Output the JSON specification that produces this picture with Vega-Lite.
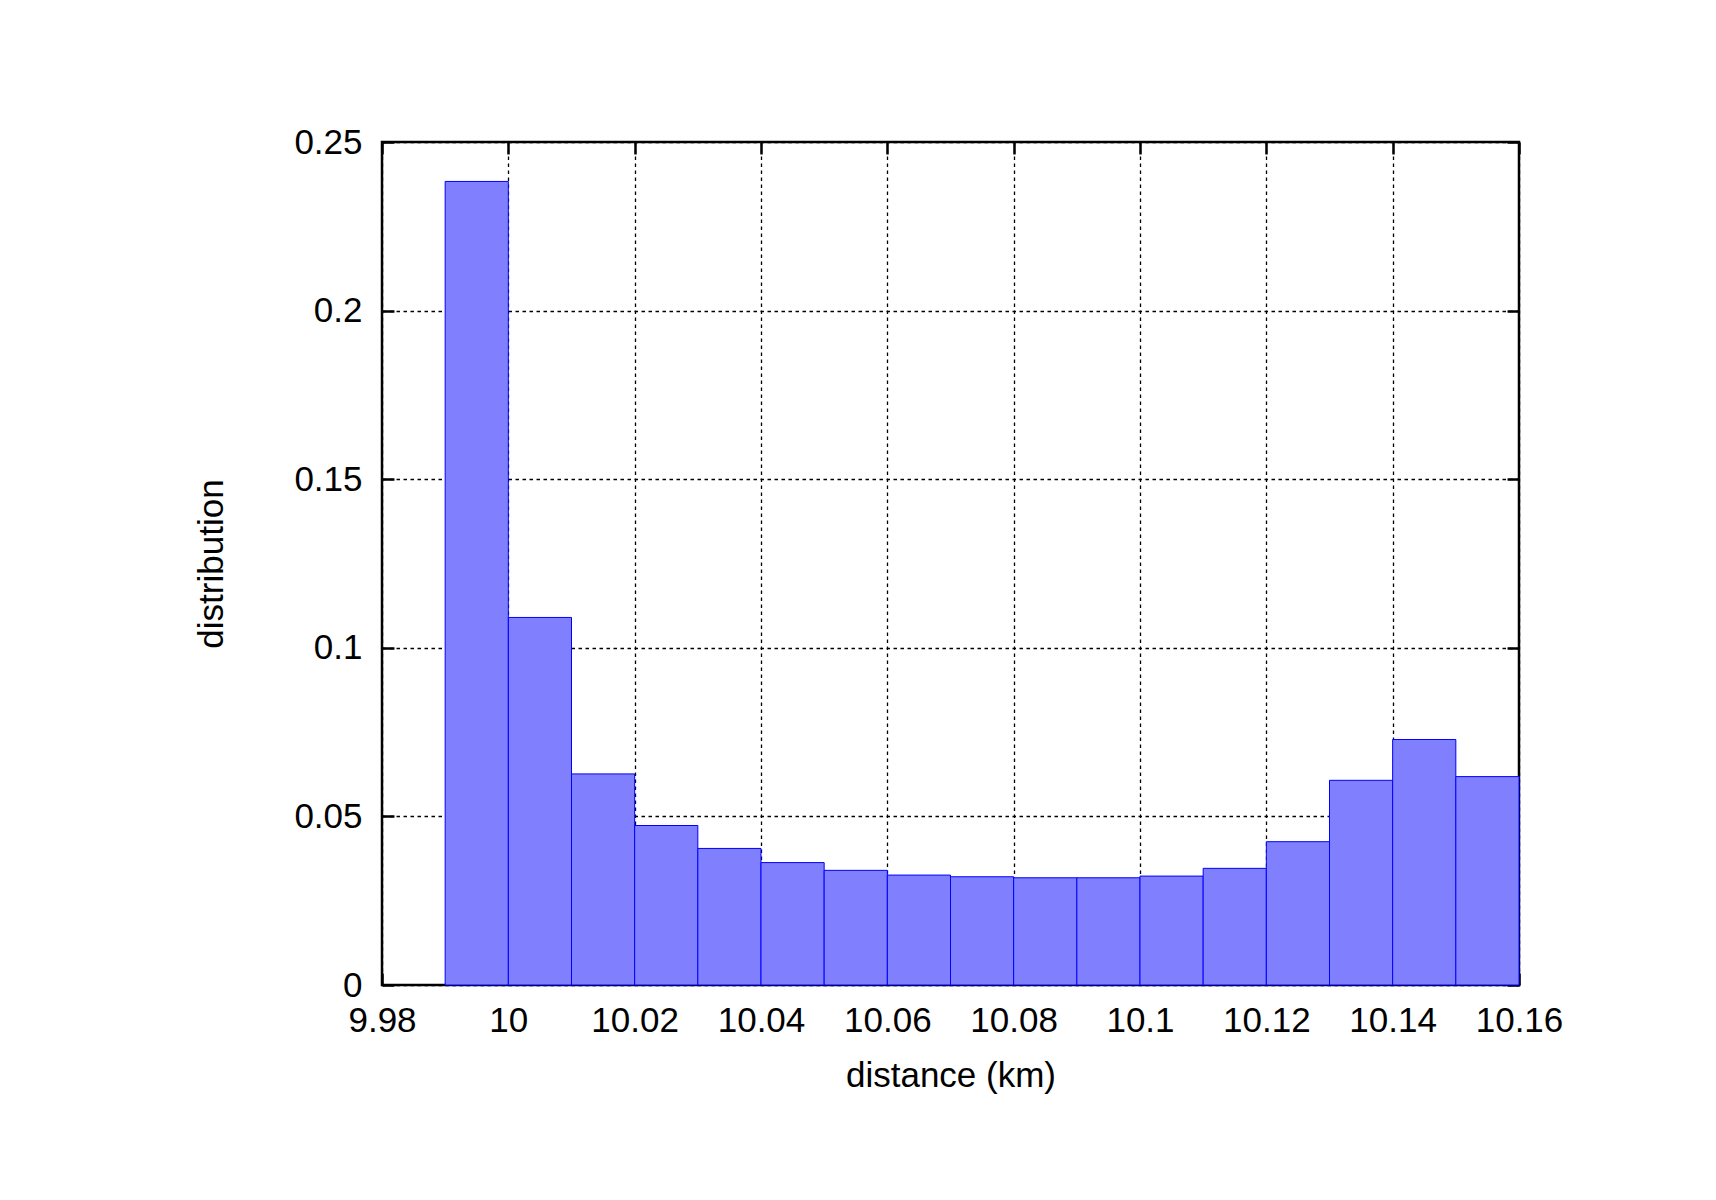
{
  "$schema": "https://vega.github.io/schema/vega-lite/v6.json",
  "width": 1137,
  "height": 843,
  "autosize": {"type": "none"},
  "padding": {"left": 382, "top": 142, "right": 197, "bottom": 215},
  "background": "white",
  "config": {
    "view": {"stroke": "black", "strokeWidth": 2.5},
    "font": "Liberation Sans",
    "scale": {"continuousPadding": 0},
    "axis": {
      "labelFont": "Liberation Sans",
      "titleFont": "Liberation Sans",
      "labelFontSize": 35,
      "titleFontSize": 35,
      "titleFontWeight": "normal",
      "labelColor": "black",
      "titleColor": "black",
      "domain": false,
      "tickColor": "black",
      "tickWidth": 2.5,
      "tickSize": -12,
      "gridColor": "black",
      "gridDash": [3.5, 3.5],
      "gridWidth": 1.3,
      "gridOpacity": 1
    }
  },
  "data": {
    "values": [
      {"start": 9.99, "end": 10.00, "value": 0.2383},
      {"start": 10.00, "end": 10.01, "value": 0.1090},
      {"start": 10.01, "end": 10.02, "value": 0.0626},
      {"start": 10.02, "end": 10.03, "value": 0.0473},
      {"start": 10.03, "end": 10.04, "value": 0.0405},
      {"start": 10.04, "end": 10.05, "value": 0.0363},
      {"start": 10.05, "end": 10.06, "value": 0.0340},
      {"start": 10.06, "end": 10.07, "value": 0.0326},
      {"start": 10.07, "end": 10.08, "value": 0.0321},
      {"start": 10.08, "end": 10.09, "value": 0.0318},
      {"start": 10.09, "end": 10.10, "value": 0.0318},
      {"start": 10.10, "end": 10.11, "value": 0.0323},
      {"start": 10.11, "end": 10.12, "value": 0.0346},
      {"start": 10.12, "end": 10.13, "value": 0.0425},
      {"start": 10.13, "end": 10.14, "value": 0.0607},
      {"start": 10.14, "end": 10.15, "value": 0.0728},
      {"start": 10.15, "end": 10.16, "value": 0.0618}
    ]
  },
  "layer": [
    {
      "mark": {"type": "bar", "fill": "#8080ff", "stroke": "#0000ff", "strokeWidth": 1, "orient": "vertical"},
      "encoding": {
        "x": {
          "field": "start",
          "type": "quantitative",
          "scale": {"domain": [9.98, 10.16], "nice": false, "zero": false, "padding": 0},
          "axis": {
            "orient": "bottom",
            "title": "distance (km)",
            "values": [9.98, 10.0, 10.02, 10.04, 10.06, 10.08, 10.1, 10.12, 10.14, 10.16],
            "format": ".2~f",
            "labelPadding": 30,
            "titlePadding": 20,
            "labelFlush": false
          }
        },
        "x2": {"field": "end"},
        "y": {
          "field": "value",
          "type": "quantitative",
          "scale": {"domain": [0, 0.25], "nice": false, "padding": 0},
          "axis": {
            "orient": "left",
            "title": "distribution",
            "values": [0, 0.05, 0.1, 0.15, 0.2, 0.25],
            "format": ".2~f",
            "labelPadding": 32,
            "titlePadding": 64,
            "labelFlush": false
          }
        },
        "y2": {"datum": 0}
      }
    },
    {
      "mark": {"type": "point", "opacity": 0},
      "encoding": {
        "x": {
          "field": "start",
          "type": "quantitative",
          "scale": {"domain": [9.98, 10.16], "nice": false, "zero": false, "padding": 0},
          "axis": {
            "orient": "top",
            "title": null,
            "labels": false,
            "grid": false,
            "values": [9.98, 10.0, 10.02, 10.04, 10.06, 10.08, 10.1, 10.12, 10.14, 10.16]
          }
        },
        "y": {
          "field": "value",
          "type": "quantitative",
          "scale": {"domain": [0, 0.25], "nice": false, "padding": 0},
          "axis": {
            "orient": "right",
            "title": null,
            "labels": false,
            "grid": false,
            "values": [0, 0.05, 0.1, 0.15, 0.2, 0.25]
          }
        }
      }
    }
  ],
  "resolve": {"axis": {"x": "independent", "y": "independent"}}
}
